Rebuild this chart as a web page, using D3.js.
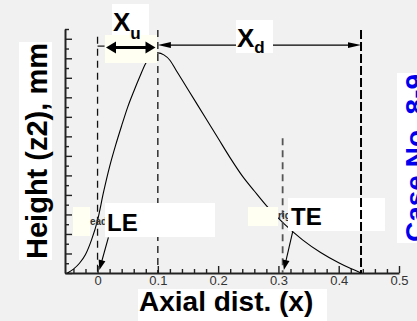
<!DOCTYPE html>
<html>
<head>
<meta charset="utf-8">
<script src="https://cdn.jsdelivr.net/npm/d3@7"></script>
<style>
  html, body { margin: 0; padding: 0; background: #f1f1f1; }
  svg { display: block; }
</style>
</head>
<body>
<svg id="chart" width="417" height="321"></svg>
<script>
// Blade profile height along the axial direction
const axialX = [-0.05, -0.04, -0.03, -0.02, -0.01, 0, 0.01, 0.02, 0.03, 0.04, 0.05, 0.06, 0.07,
                0.08, 0.09, 0.1, 0.11, 0.12, 0.13, 0.15, 0.18, 0.2, 0.22, 0.24, 0.26, 0.28,
                0.31, 0.34, 0.37, 0.4, 0.42, 0.437];
const heightZ = [0, 0.4, 1.0, 1.9, 3.4, 5.4, 8.3, 10.9, 13.1, 15.1, 17.0, 18.6, 20.1,
                 21.5, 22.2, 22.55, 22.35, 21.8, 20.8, 18.8, 15.8, 13.8, 11.8, 9.95, 8.4, 6.9,
                 5.0, 3.4, 2.1, 1.05, 0.45, 0];

// Axis ticks
const xMajor = [0, 0.1, 0.2, 0.3, 0.4, 0.5];
const xTickLabels = ["0", "0.1", "0.2", "0.3", "0.4", "0.5"];
const xMinor = [-0.04, -0.02, 0.02, 0.04, 0.06, 0.08, 0.12, 0.14, 0.16, 0.18, 0.22, 0.24,
                0.26, 0.28, 0.32, 0.34, 0.36, 0.38, 0.42, 0.44, 0.46, 0.48];
const yMajor = [0, 2, 4, 6, 8, 10, 12, 14, 16, 18, 20, 22, 24];
const yMinor = [1, 3, 5, 7, 9, 11, 13, 15, 17, 19, 21, 23, 25];

// Reference stations
const leX = 0, peakX = 0.1, teX = 0.307, endX = 0.437;

const FONT = "'Liberation Sans', Arial, Helvetica, sans-serif";
const svg = d3.select("#chart");
svg.append("rect").attr("width", 417).attr("height", 321).attr("fill", "#f1f1f1");

const x = d3.scaleLinear().domain([-0.054, 0.5]).range([65, 399]);
const y = d3.scaleLinear().domain([0, 25]).range([273, 29]);

// ---- axes ----
const gxMinor = svg.append("g").attr("transform", `translate(0,${y(0)})`)
  .call(d3.axisBottom(x).tickValues(xMinor).tickFormat("").tickSizeInner(-4).tickSizeOuter(0));
gxMinor.select(".domain").remove();
const gx = svg.append("g").attr("transform", `translate(0,${y(0)})`)
  .call(d3.axisBottom(x).tickValues(xMajor).tickFormat((d, i) => xTickLabels[i])
    .tickSizeInner(-7).tickSizeOuter(0).tickPadding(3));
gx.select(".domain").attr("stroke", "#222").attr("stroke-width", 2);
gx.selectAll("text").attr("font-family", FONT).attr("font-size", 13).attr("fill", "#333");

const gyMinor = svg.append("g").attr("transform", `translate(${x.range()[0]},0)`)
  .call(d3.axisLeft(y).tickValues(yMinor).tickFormat("").tickSizeInner(-4).tickSizeOuter(0));
gyMinor.select(".domain").remove();
const gy = svg.append("g").attr("transform", `translate(${x.range()[0]},0)`)
  .call(d3.axisLeft(y).tickValues(yMajor).tickFormat("").tickSizeInner(-7).tickSizeOuter(0));
gy.select(".domain").attr("stroke", "#222").attr("stroke-width", 2);
svg.selectAll(".tick line").attr("stroke", "#222").attr("stroke-width", 1.4);

// ---- profile curve ----
const line = d3.line().x(d => x(d[0])).y(d => y(d[1])).curve(d3.curveMonotoneX);
svg.append("path").datum(axialX.map((v, i) => [v, heightZ[i]]))
  .attr("d", line).attr("fill", "none").attr("stroke", "#000").attr("stroke-width", 1.1);

// ---- station lines ----
function vDash(xv, top, color, width, dash) {
  svg.append("line").attr("x1", x(xv)).attr("x2", x(xv)).attr("y1", y(top)).attr("y2", y(0))
    .attr("stroke", color).attr("stroke-width", width).attr("stroke-dasharray", dash);
}
vDash(leX, 24.2, "#111", 1.3, "7,5");
vDash(peakX, 24.9, "#111", 1.3, "7,5");
vDash(teX, 13.8, "#555", 1.8, "7,5");

// arrowhead helper: tip position in pixels, direction angle (radians)
function head(tx, ty, ang, len, hw) {
  const bx = tx - len * Math.cos(ang), by = ty - len * Math.sin(ang);
  const px = -Math.sin(ang) * hw, py = Math.cos(ang) * hw;
  svg.append("path")
    .attr("d", `M${tx},${ty}L${bx + px},${by + py}L${bx - px},${by - py}Z`)
    .attr("fill", "#000");
}
function seg(x1, y1, x2, y2, w) {
  svg.append("line").attr("x1", x1).attr("y1", y1).attr("x2", x2).attr("y2", y2)
    .attr("stroke", "#000").attr("stroke-width", w);
}
function box(x0, y0, x1, y1, fill) {
  svg.append("rect").attr("x", x0).attr("y", y0).attr("width", x1 - x0).attr("height", y1 - y0)
    .attr("fill", fill);
}

// X_d span arrow
const yD = y(23.35);
seg(x(peakX) + 6, yD, x(endX) - 6, yD, 1.1);
head(x(peakX), yD, Math.PI, 13, 3);
head(x(endX), yD, 0, 13, 2.8);

// X_u span arrow
const yU = y(23.1);
seg(x(leX), yD + 1, x(leX) + 7, yD + 1, 1.1);
box(105, 35, 157, 63, "#fffff2");
seg(114, yU, 147, yU, 3);
head(106, yU, Math.PI, 10, 6);
head(155.5, yU, 0, 10, 6);

// span labels
box(112, 4, 149, 35, "#ffffff");
const tU = svg.append("text").attr("x", 113).attr("y", 31)
  .attr("font-family", FONT).attr("font-weight", "bold").attr("font-size", 26).attr("fill", "#000");
tU.append("tspan").text("X");
tU.append("tspan").attr("font-size", 17).attr("dy", 8).text("u");

box(236, 20, 273, 53, "#ffffff");
const tD = svg.append("text").attr("x", 237).attr("y", 47)
  .attr("font-family", FONT).attr("font-weight", "bold").attr("font-size", 26).attr("fill", "#000");
tD.append("tspan").text("X");
tD.append("tspan").attr("font-size", 17).attr("dy", 6).text("d");

// leading / trailing edge labels
box(73, 207, 90, 236, "#fffff2");
svg.append("text").attr("x", 90).attr("y", 225).text("ead")
  .attr("font-family", FONT).attr("font-size", 10).attr("font-weight", "bold").attr("fill", "#333");
box(105, 203, 215, 237, "#ffffff");
svg.append("text").attr("x", 107).attr("y", 231).text("LE")
  .attr("font-family", FONT).attr("font-weight", "bold").attr("font-size", 24).attr("fill", "#000");

box(248, 207, 278, 226, "#fffff2");
svg.append("text").attr("x", 278).attr("y", 219).text("rig")
  .attr("font-family", FONT).attr("font-size", 10).attr("font-weight", "bold").attr("fill", "#333");
box(288, 198, 385, 231, "#ffffff");
svg.append("text").attr("x", 291).attr("y", 225).text("TE")
  .attr("font-family", FONT).attr("font-weight", "bold").attr("font-size", 24).attr("fill", "#000");

// trailing end station drawn over the labels
vDash(endX, 24.9, "#000", 2, "9,3");

// pointer arrows to LE and TE
function pointer(fx, fy, tx, ty) {
  const x1 = x(fx), y1 = y(fy), x2 = x(tx), y2 = y(ty);
  const ang = Math.atan2(y2 - y1, x2 - x1);
  seg(x1, y1, x2 - 8 * Math.cos(ang), y2 - 8 * Math.sin(ang), 1.1);
  head(x2, y2, ang, 10, 3.5);
}
pointer(0.018, 3.66, 0.003, 0.31);
pointer(0.3237, 4.23, 0.309, 0.31);

// axis titles
box(138, 289, 327, 321, "#ffffff");
svg.append("text").attr("x", 139).attr("y", 311).text("Axial dist. (x)")
  .attr("font-family", FONT).attr("font-weight", "bold").attr("font-size", 28).attr("fill", "#000");

box(19, 42, 52, 260, "#ffffff");
svg.append("text").attr("transform", "translate(47,151) rotate(-90)")
  .attr("text-anchor", "middle").text("Height (z2), mm")
  .attr("font-family", FONT).attr("font-weight", "bold").attr("font-size", 29).attr("fill", "#000");

box(397, 73, 417, 243, "#ffffff");
svg.append("text").attr("transform", "translate(425,158) rotate(-90)")
  .attr("text-anchor", "middle").text("Case No. 8-9")
  .attr("font-family", FONT).attr("font-weight", "bold").attr("font-size", 28).attr("fill", "#0000ee");
</script>
</body>
</html>
